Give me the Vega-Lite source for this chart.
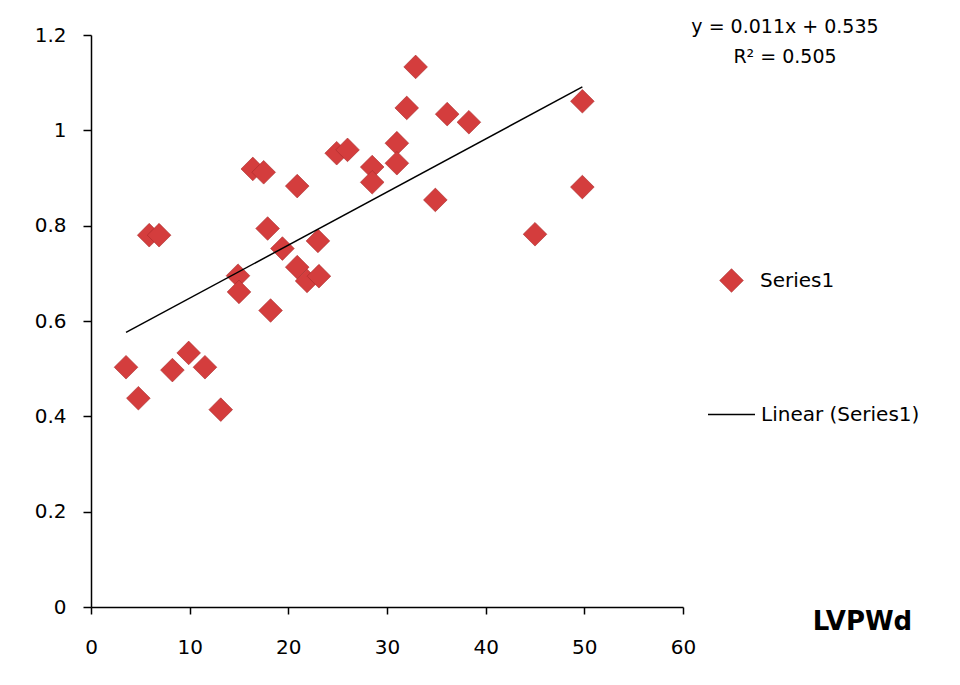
{
  "$schema": "https://vega.github.io/schema/vega-lite/v6.json",
  "width": 592,
  "height": 572,
  "autosize": {"type": "none"},
  "padding": {"left": 91, "top": 35, "right": 277, "bottom": 78},
  "background": "white",
  "config": {"view": {"stroke": null}, "font": "DejaVu Sans"},
  "title": {
    "text": "y = 0.011x + 0.535",
    "subtitle": "R² = 0.505",
    "anchor": "end",
    "align": "center",
    "frame": "group",
    "dx": 102,
    "offset": -42,
    "fontSize": 19,
    "fontWeight": "normal",
    "subtitleFontSize": 19,
    "color": "black",
    "subtitleColor": "black",
    "font": "DejaVu Sans",
    "subtitleFont": "DejaVu Sans",
    "subtitlePadding": 11
  },
  "datasets": {
    "points": [
      {"x": 3.55, "y": 0.503, "series": "Series1"},
      {"x": 4.8, "y": 0.438, "series": "Series1"},
      {"x": 5.9, "y": 0.78, "series": "Series1"},
      {"x": 6.9, "y": 0.78, "series": "Series1"},
      {"x": 8.25, "y": 0.497, "series": "Series1"},
      {"x": 9.9, "y": 0.533, "series": "Series1"},
      {"x": 11.55, "y": 0.503, "series": "Series1"},
      {"x": 13.15, "y": 0.414, "series": "Series1"},
      {"x": 14.9, "y": 0.695, "series": "Series1"},
      {"x": 15.0, "y": 0.661, "series": "Series1"},
      {"x": 16.4, "y": 0.919, "series": "Series1"},
      {"x": 17.5, "y": 0.912, "series": "Series1"},
      {"x": 17.9, "y": 0.794, "series": "Series1"},
      {"x": 18.2, "y": 0.622, "series": "Series1"},
      {"x": 19.4, "y": 0.752, "series": "Series1"},
      {"x": 20.9, "y": 0.883, "series": "Series1"},
      {"x": 20.9, "y": 0.713, "series": "Series1"},
      {"x": 21.9, "y": 0.684, "series": "Series1"},
      {"x": 23.0, "y": 0.768, "series": "Series1"},
      {"x": 23.1, "y": 0.694, "series": "Series1"},
      {"x": 24.9, "y": 0.952, "series": "Series1"},
      {"x": 26.0, "y": 0.959, "series": "Series1"},
      {"x": 28.5, "y": 0.923, "series": "Series1"},
      {"x": 28.5, "y": 0.891, "series": "Series1"},
      {"x": 31.0, "y": 0.973, "series": "Series1"},
      {"x": 31.0, "y": 0.931, "series": "Series1"},
      {"x": 32.0, "y": 1.047, "series": "Series1"},
      {"x": 32.9, "y": 1.133, "series": "Series1"},
      {"x": 34.9, "y": 0.854, "series": "Series1"},
      {"x": 36.1, "y": 1.034, "series": "Series1"},
      {"x": 38.3, "y": 1.017, "series": "Series1"},
      {"x": 45.0, "y": 0.782, "series": "Series1"},
      {"x": 49.8, "y": 1.061, "series": "Series1"},
      {"x": 49.8, "y": 0.881, "series": "Series1"}
    ],
    "trend": [
      {"x": 3.55, "y": 0.576, "fit": "Linear (Series1)"},
      {"x": 49.8, "y": 1.091, "fit": "Linear (Series1)"}
    ]
  },
  "layer": [
    {
      "data": {"name": "points"},
      "mark": {"type": "point", "filled": true, "size": 560, "fill": "#d43d3d", "stroke": "#a82c2c", "strokeWidth": 0.6, "opacity": 1},
      "encoding": {
        "x": {
          "field": "x", "type": "quantitative",
          "scale": {"domain": [0, 60], "nice": false, "zero": false},
          "axis": {
            "values": [0, 10, 20, 30, 40, 50, 60],
            "grid": false,
            "labelFlush": false,
            "domainColor": "black", "domainWidth": 1.5,
            "tickColor": "black", "tickWidth": 1.5, "tickSize": 7,
            "labelFont": "DejaVu Sans", "labelFontSize": 20, "labelColor": "black", "labelPadding": 23,
            "title": "LVPWd",
            "titleFont": "DejaVu Sans", "titleFontSize": 26, "titleFontWeight": "bold", "titleColor": "black",
            "titleX": 771, "titleY": 14, "titleAlign": "center", "titleBaseline": "middle", "titleAnchor": null
          }
        },
        "y": {
          "field": "y", "type": "quantitative",
          "scale": {"domain": [0, 1.2], "nice": false},
          "axis": {
            "values": [0, 0.2, 0.4, 0.6, 0.8, 1, 1.2],
            "format": "~g",
            "grid": false,
            "labelFlush": false,
            "domainColor": "black", "domainWidth": 1.5,
            "tickColor": "black", "tickWidth": 1.5, "tickSize": 8,
            "labelFont": "DejaVu Sans", "labelFontSize": 20, "labelColor": "black", "labelPadding": 17,
            "title": null
          }
        },
        "shape": {
          "field": "series", "type": "nominal",
          "scale": {"domain": ["Series1"], "range": ["diamond"]},
          "legend": {
            "title": null,
            "orient": "none",
            "legendX": 628,
            "legendY": 233,
            "symbolSize": 560,
            "symbolStrokeWidth": 0.6,
            "labelFont": "DejaVu Sans",
            "labelFontSize": 20,
            "labelColor": "black",
            "labelOffset": 16
          }
        }
      }
    },
    {
      "data": {"name": "trend"},
      "mark": {"type": "line", "strokeWidth": 1.5},
      "encoding": {
        "x": {"field": "x", "type": "quantitative"},
        "y": {"field": "y", "type": "quantitative"},
        "color": {
          "field": "fit", "type": "nominal",
          "scale": {"domain": ["Linear (Series1)"], "range": ["#000000"]},
          "legend": {
            "title": null,
            "orient": "none",
            "legendX": 616,
            "legendY": 355,
            "symbolType": "stroke",
            "symbolSize": 2209,
            "symbolStrokeWidth": 1.5,
            "labelFont": "DejaVu Sans",
            "labelFontSize": 20,
            "labelColor": "black",
            "labelOffset": 5
          }
        }
      }
    }
  ]
}
